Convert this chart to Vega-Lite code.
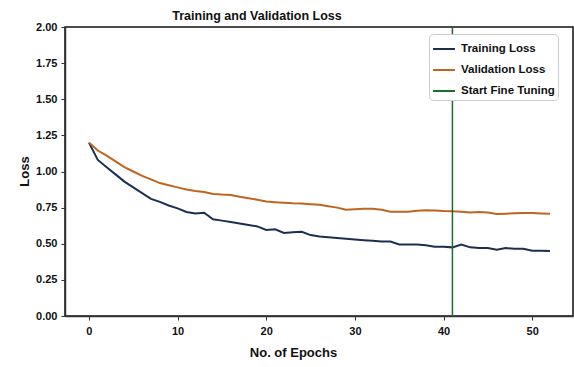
{
  "$schema": "https://vega.github.io/schema/vega-lite/v6.json",
  "width": 508,
  "height": 289,
  "autosize": {"type": "none"},
  "padding": {"left": 65, "top": 27, "right": 1, "bottom": 51},
  "background": "white",
  "title": {
    "text": "Training and Validation Loss",
    "font": "Liberation Sans",
    "fontSize": 12.5,
    "fontWeight": "bold",
    "color": "#111",
    "anchor": "middle",
    "dx": -62,
    "offset": -1
  },
  "config": {
    "view": {"stroke": "#111", "strokeWidth": 1.5},
    "font": "Liberation Sans",
    "axis": {
      "grid": false,
      "domainColor": "#333",
      "domainWidth": 1.5,
      "tickColor": "#333",
      "tickSize": 4,
      "labelFont": "Liberation Sans",
      "labelFontSize": 11,
      "labelFontWeight": "bold",
      "labelColor": "#111",
      "titleFont": "Liberation Sans",
      "titleFontSize": 13,
      "titleFontWeight": "bold",
      "titleColor": "#111"
    }
  },
  "datasets": {
    "loss": [
      {"epoch": 0, "series": "Training Loss", "loss": 1.20},
      {"epoch": 1, "series": "Training Loss", "loss": 1.08},
      {"epoch": 2, "series": "Training Loss", "loss": 1.03},
      {"epoch": 3, "series": "Training Loss", "loss": 0.98},
      {"epoch": 4, "series": "Training Loss", "loss": 0.93},
      {"epoch": 5, "series": "Training Loss", "loss": 0.89},
      {"epoch": 6, "series": "Training Loss", "loss": 0.85},
      {"epoch": 7, "series": "Training Loss", "loss": 0.81},
      {"epoch": 8, "series": "Training Loss", "loss": 0.79},
      {"epoch": 9, "series": "Training Loss", "loss": 0.765},
      {"epoch": 10, "series": "Training Loss", "loss": 0.745},
      {"epoch": 11, "series": "Training Loss", "loss": 0.72},
      {"epoch": 12, "series": "Training Loss", "loss": 0.71},
      {"epoch": 13, "series": "Training Loss", "loss": 0.715},
      {"epoch": 14, "series": "Training Loss", "loss": 0.67},
      {"epoch": 15, "series": "Training Loss", "loss": 0.66},
      {"epoch": 16, "series": "Training Loss", "loss": 0.65},
      {"epoch": 17, "series": "Training Loss", "loss": 0.64},
      {"epoch": 18, "series": "Training Loss", "loss": 0.63},
      {"epoch": 19, "series": "Training Loss", "loss": 0.62},
      {"epoch": 20, "series": "Training Loss", "loss": 0.595},
      {"epoch": 21, "series": "Training Loss", "loss": 0.60},
      {"epoch": 22, "series": "Training Loss", "loss": 0.575},
      {"epoch": 23, "series": "Training Loss", "loss": 0.58},
      {"epoch": 24, "series": "Training Loss", "loss": 0.583},
      {"epoch": 25, "series": "Training Loss", "loss": 0.56},
      {"epoch": 26, "series": "Training Loss", "loss": 0.55},
      {"epoch": 27, "series": "Training Loss", "loss": 0.545},
      {"epoch": 28, "series": "Training Loss", "loss": 0.54},
      {"epoch": 29, "series": "Training Loss", "loss": 0.535},
      {"epoch": 30, "series": "Training Loss", "loss": 0.53},
      {"epoch": 31, "series": "Training Loss", "loss": 0.525},
      {"epoch": 32, "series": "Training Loss", "loss": 0.52},
      {"epoch": 33, "series": "Training Loss", "loss": 0.515},
      {"epoch": 34, "series": "Training Loss", "loss": 0.515},
      {"epoch": 35, "series": "Training Loss", "loss": 0.495},
      {"epoch": 36, "series": "Training Loss", "loss": 0.495},
      {"epoch": 37, "series": "Training Loss", "loss": 0.495},
      {"epoch": 38, "series": "Training Loss", "loss": 0.49},
      {"epoch": 39, "series": "Training Loss", "loss": 0.48},
      {"epoch": 40, "series": "Training Loss", "loss": 0.48},
      {"epoch": 41, "series": "Training Loss", "loss": 0.475},
      {"epoch": 42, "series": "Training Loss", "loss": 0.495},
      {"epoch": 43, "series": "Training Loss", "loss": 0.475},
      {"epoch": 44, "series": "Training Loss", "loss": 0.47},
      {"epoch": 45, "series": "Training Loss", "loss": 0.47},
      {"epoch": 46, "series": "Training Loss", "loss": 0.458},
      {"epoch": 47, "series": "Training Loss", "loss": 0.47},
      {"epoch": 48, "series": "Training Loss", "loss": 0.465},
      {"epoch": 49, "series": "Training Loss", "loss": 0.466},
      {"epoch": 50, "series": "Training Loss", "loss": 0.452},
      {"epoch": 51, "series": "Training Loss", "loss": 0.452},
      {"epoch": 52, "series": "Training Loss", "loss": 0.45},
      {"epoch": 0, "series": "Validation Loss", "loss": 1.20},
      {"epoch": 1, "series": "Validation Loss", "loss": 1.145},
      {"epoch": 2, "series": "Validation Loss", "loss": 1.11},
      {"epoch": 3, "series": "Validation Loss", "loss": 1.07},
      {"epoch": 4, "series": "Validation Loss", "loss": 1.03},
      {"epoch": 5, "series": "Validation Loss", "loss": 1.0},
      {"epoch": 6, "series": "Validation Loss", "loss": 0.97},
      {"epoch": 7, "series": "Validation Loss", "loss": 0.945},
      {"epoch": 8, "series": "Validation Loss", "loss": 0.92},
      {"epoch": 9, "series": "Validation Loss", "loss": 0.905},
      {"epoch": 10, "series": "Validation Loss", "loss": 0.89},
      {"epoch": 11, "series": "Validation Loss", "loss": 0.875},
      {"epoch": 12, "series": "Validation Loss", "loss": 0.865},
      {"epoch": 13, "series": "Validation Loss", "loss": 0.858},
      {"epoch": 14, "series": "Validation Loss", "loss": 0.845},
      {"epoch": 15, "series": "Validation Loss", "loss": 0.84},
      {"epoch": 16, "series": "Validation Loss", "loss": 0.838},
      {"epoch": 17, "series": "Validation Loss", "loss": 0.825},
      {"epoch": 18, "series": "Validation Loss", "loss": 0.815},
      {"epoch": 19, "series": "Validation Loss", "loss": 0.805},
      {"epoch": 20, "series": "Validation Loss", "loss": 0.792},
      {"epoch": 21, "series": "Validation Loss", "loss": 0.788},
      {"epoch": 22, "series": "Validation Loss", "loss": 0.784},
      {"epoch": 23, "series": "Validation Loss", "loss": 0.78},
      {"epoch": 24, "series": "Validation Loss", "loss": 0.778},
      {"epoch": 25, "series": "Validation Loss", "loss": 0.774},
      {"epoch": 26, "series": "Validation Loss", "loss": 0.77},
      {"epoch": 27, "series": "Validation Loss", "loss": 0.76},
      {"epoch": 28, "series": "Validation Loss", "loss": 0.75},
      {"epoch": 29, "series": "Validation Loss", "loss": 0.735},
      {"epoch": 30, "series": "Validation Loss", "loss": 0.738},
      {"epoch": 31, "series": "Validation Loss", "loss": 0.742},
      {"epoch": 32, "series": "Validation Loss", "loss": 0.743},
      {"epoch": 33, "series": "Validation Loss", "loss": 0.735},
      {"epoch": 34, "series": "Validation Loss", "loss": 0.722},
      {"epoch": 35, "series": "Validation Loss", "loss": 0.722},
      {"epoch": 36, "series": "Validation Loss", "loss": 0.722},
      {"epoch": 37, "series": "Validation Loss", "loss": 0.728},
      {"epoch": 38, "series": "Validation Loss", "loss": 0.732},
      {"epoch": 39, "series": "Validation Loss", "loss": 0.73},
      {"epoch": 40, "series": "Validation Loss", "loss": 0.726},
      {"epoch": 41, "series": "Validation Loss", "loss": 0.725},
      {"epoch": 42, "series": "Validation Loss", "loss": 0.722},
      {"epoch": 43, "series": "Validation Loss", "loss": 0.716},
      {"epoch": 44, "series": "Validation Loss", "loss": 0.72},
      {"epoch": 45, "series": "Validation Loss", "loss": 0.716},
      {"epoch": 46, "series": "Validation Loss", "loss": 0.706},
      {"epoch": 47, "series": "Validation Loss", "loss": 0.708},
      {"epoch": 48, "series": "Validation Loss", "loss": 0.711},
      {"epoch": 49, "series": "Validation Loss", "loss": 0.712},
      {"epoch": 50, "series": "Validation Loss", "loss": 0.712},
      {"epoch": 51, "series": "Validation Loss", "loss": 0.71},
      {"epoch": 52, "series": "Validation Loss", "loss": 0.708}
    ],
    "finetune": [
      {"epoch": 41, "series": "Start Fine Tuning"}
    ]
  },
  "layer": [
    {
      "data": {"name": "loss"},
      "mark": {"type": "line", "strokeWidth": 2},
      "encoding": {
        "x": {
          "field": "epoch",
          "type": "quantitative",
          "scale": {"domain": [-2.7, 54.6], "nice": false, "zero": false},
          "axis": {
            "title": "No. of Epochs",
            "values": [0, 10, 20, 30, 40, 50],
            "labelPadding": 5,
            "titleX": 228,
            "titleY": 36,
            "titleBaseline": "middle"
          }
        },
        "y": {
          "field": "loss",
          "type": "quantitative",
          "scale": {"domain": [0, 2], "nice": false},
          "axis": {
            "title": "Loss",
            "values": [0, 0.25, 0.5, 0.75, 1.0, 1.25, 1.5, 1.75, 2.0],
            "format": ".2f",
            "labelPadding": 4,
            "titleX": -41,
            "titleY": 144,
            "titleBaseline": "middle"
          }
        },
        "color": {
          "field": "series",
          "type": "nominal",
          "scale": {
            "domain": ["Training Loss", "Validation Loss", "Start Fine Tuning"],
            "range": ["#1c2f52", "#c0651f", "#1e6b2e"]
          },
          "legend": {
            "title": null,
            "orient": "none",
            "legendX": 364,
            "legendY": 7,
            "symbolType": "stroke",
            "symbolSize": 480,
            "symbolStrokeWidth": 2,
            "labelFont": "Liberation Sans",
            "labelFontSize": 11.5,
            "labelFontWeight": "bold",
            "labelColor": "#111",
            "labelOffset": 5,
            "rowPadding": 3,
            "padding": 3,
            "strokeColor": "#cccccc",
            "fillColor": "white",
            "cornerRadius": 4
          }
        }
      }
    },
    {
      "data": {"name": "finetune"},
      "mark": {"type": "rule", "strokeWidth": 1.5},
      "encoding": {
        "x": {"field": "epoch", "type": "quantitative"},
        "color": {"field": "series", "type": "nominal"}
      }
    }
  ]
}
